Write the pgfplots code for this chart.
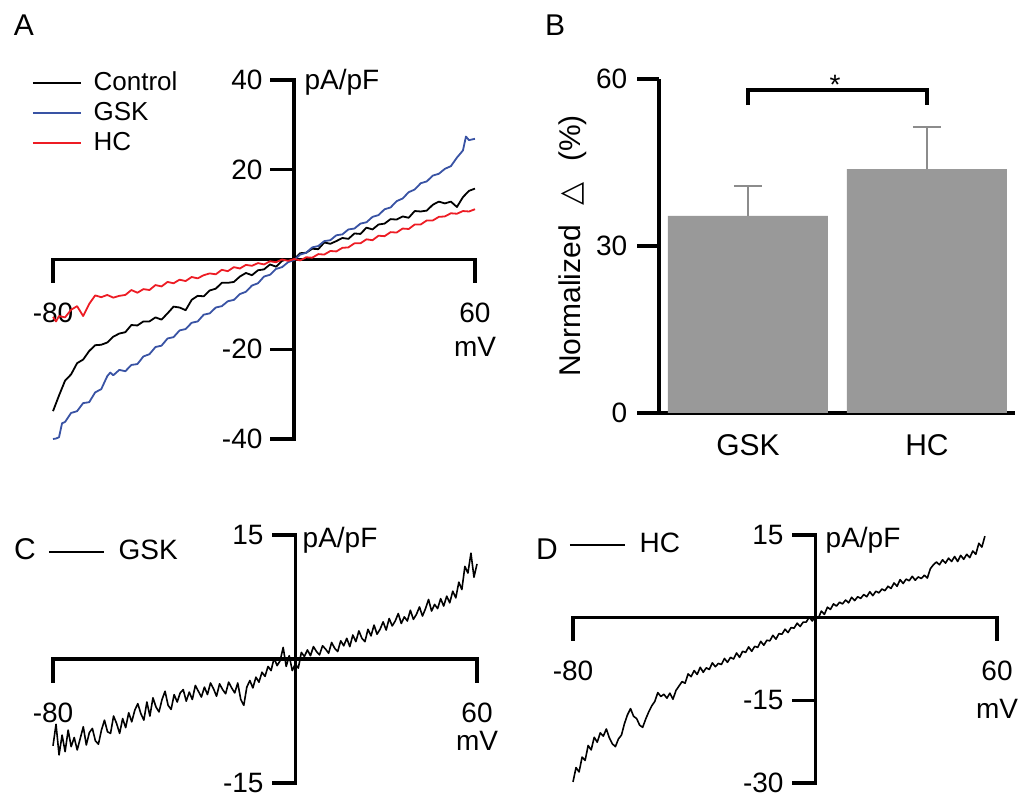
\documentclass[border=0pt]{standalone}
\usepackage{fontspec}
\setmainfont{Liberation Sans}
\newfontfamily\dejavu{DejaVu Sans}
\usepackage{pgfplots}
\pgfplotsset{compat=1.18}

\definecolor{gskblue}{HTML}{3953A4}
\definecolor{hcred}{HTML}{ED1C24}
\definecolor{bargray}{HTML}{999999}
\definecolor{errgray}{HTML}{8C8C8C}

\pgfplotsset{
  ivaxis/.style={
    scale only axis, axis lines=middle, enlargelimits=false, clip=false,
    axis line style={-, line width=1.7pt, line cap=rect},
    major tick style={line width=1.7pt, black, line cap=rect},
    tick align=outside, major tick length=11pt,
    xmin=-80, xmax=60, xtick={-80,60},
    xticklabel style={align=center, yshift=-6pt},
    every axis plot/.append style={line width=0.9pt, line join=round},
    legend cell align=left,
  },
}

\begin{document}
\fontsize{14pt}{16pt}\selectfont
\begin{tikzpicture}
\path[use as bounding box] (0,0) rectangle (510pt,398.5pt);

% ---------- A ----------
\begin{axis}[ivaxis, at={(26.5pt,179pt)}, anchor=south west,
    width=211pt, height=179.5pt, ymin=-40, ymax=40,
    ytick={-40,-20,20,40}, yticklabels={-40,-20,20,40},
    xticklabels={-80,{60\\[1pt]mV}},
    legend image code/.code={\draw[#1, line width=0.8pt] (0pt,0pt) -- (24pt,0pt);},
    legend style={draw=none, fill=none, inner sep=0pt, outer sep=0pt,
      at={(rel axis cs:0,1)}, anchor=north west, xshift=-10.5pt, yshift=4.5pt,
      row sep=3pt, column sep=6pt, font=\fontsize{13pt}{15pt}\selectfont,
      nodes={inner sep=0pt, text height=9.5pt, text depth=2.5pt}}]
% Control
\addplot[black] coordinates {
(-80,-33.8) (-78,-30.3) (-76,-27.0) (-74,-25.6) (-72,-23.1) (-70,-22.3)
(-68,-20.4) (-66,-19.1) (-64,-19.0) (-62,-18.5) (-60,-17.2) (-58,-16.5)
(-56,-16.2) (-54,-14.6) (-52,-14.7) (-50,-13.8) (-48,-13.8) (-46,-12.9)
(-44,-13.4) (-42,-12.0) (-40,-10.5) (-38,-10.7) (-36,-11.3) (-34,-9.0)
(-32,-8.1) (-30,-8.2) (-28,-6.9) (-26,-6.5) (-24,-5.2) (-22,-5.2)
(-20,-5.0) (-18,-3.8) (-16,-3.0) (-14,-3.5) (-12,-2.4) (-10,-2.2)
(-8,-1.1) (-6,-1.6) (-4,-0.3) (-2,0.1) (0,0.1) (2,1.4) (4,1.5) (6,2.4)
(8,2.3) (10,3.8) (12,3.5) (14,4.1) (16,4.8) (18,4.6) (20,5.8) (22,5.7)
(24,7.1) (26,6.7) (28,7.8) (30,8.0) (32,9.0) (34,8.9) (36,9.6) (38,9.3)
(40,10.8) (42,10.7) (44,10.9) (46,12.2) (48,12.9) (50,12.5) (52,12.9)
(54,11.7) (56,13.9) (58,15.3) (60,15.8)};
% GSK
\addplot[gskblue] coordinates {
(-80,-40.0) (-79,-39.9) (-78,-39.6) (-77,-36.5) (-76,-36.2) (-74,-34.2) (-72,-33.8)
(-70,-32.0) (-68,-31.8) (-66,-29.6) (-64,-28.9) (-62,-26.0) (-61,-25.2) (-60,-25.8)
(-58,-24.6) (-56,-24.9) (-54,-23.5) (-52,-23.3) (-50,-21.6) (-48,-21.1)
(-46,-19.5) (-44,-19.2) (-42,-17.6) (-40,-17.3) (-38,-15.8) (-36,-15.5)
(-34,-14.1) (-32,-13.8) (-30,-12.3) (-28,-12.0) (-26,-10.7) (-24,-10.4)
(-22,-9.3) (-20,-9.0) (-18,-7.7) (-16,-7.2) (-14,-5.8) (-12,-5.3)
(-10,-3.8) (-8,-3.4) (-6,-2.1) (-4,-1.7) (-2,-0.6) (0,-0.1) (2,1.1)
(4,1.5) (6,2.7) (8,3.0) (10,4.1) (12,4.3) (14,5.4) (16,5.6) (18,6.7)
(20,6.9) (22,8.0) (24,8.3) (26,9.5) (28,9.9) (30,11.2) (32,11.6)
(34,13.0) (36,13.6) (38,15.0) (40,15.6) (42,17.0) (44,17.4) (46,18.7)
(48,19.1) (50,20.2) (52,20.8) (54,22.7) (56,24.3) (57,27.4) (58,26.6) (60,26.9)};
% HC
\addplot[hcred] coordinates {
(-80,-12.8) (-79,-13.8) (-78,-12.6) (-76,-12.9) (-74,-11.2) (-72,-10.4)
(-70,-12.6) (-68,-9.9) (-66,-8.0) (-64,-8.4) (-62,-7.9) (-60,-8.5)
(-58,-8.1) (-56,-7.9) (-54,-6.8) (-52,-7.4) (-50,-6.6) (-48,-6.8)
(-46,-5.7) (-44,-6.0) (-42,-5.0) (-40,-5.3) (-38,-4.5) (-36,-4.8)
(-34,-3.9) (-32,-4.2) (-30,-3.5) (-28,-3.1) (-26,-3.3) (-24,-2.3)
(-22,-2.6) (-20,-1.7) (-18,-2.0) (-16,-1.2) (-14,-1.4) (-12,-0.8)
(-10,-1.1) (-8,-0.4) (-6,-0.6) (-4,0.0) (-2,-0.3) (0,0.1) (2,-0.2)
(4,0.5) (6,0.4) (8,1.2) (10,1.1) (12,1.9) (14,1.8) (16,2.6) (18,2.7)
(20,3.6) (22,3.6) (24,4.5) (26,4.3) (28,5.3) (30,5.2) (32,6.1) (34,6.0)
(36,6.9) (38,6.8) (40,7.8) (42,7.8) (44,8.7) (46,8.7) (48,9.5) (50,9.6)
(52,10.3) (54,10.2) (56,10.8) (58,10.7) (60,11.2)};
\legend{Control,GSK,HC}
\node[anchor=base west, inner sep=0pt, font=\fontsize{14pt}{16pt}\selectfont]
  at ([xshift=5pt,yshift=-4.5pt]axis cs:0,40) {pA/pF};
\end{axis}

% ---------- B ----------
\begin{axis}[at={(329.5pt,192pt)}, anchor=south west, scale only axis,
    width=178pt, height=167pt, xmin=-0.497, xmax=1.492, ymin=0, ymax=60,
    enlargelimits=false, clip=false,
    axis x line=bottom, axis y line=left,
    axis line style={-, line width=1.8pt},
    tick align=outside, major tick length=11pt,
    major tick style={line width=1.8pt, black},
    ytick={0,30,60}, yticklabels={0,30,60},
    xtick={0,1}, xticklabels={GSK,HC}, x tick style={draw=none},
    xticklabel style={yshift=5pt, font=\fontsize{15pt}{17pt}\selectfont},
    ylabel={Normalized\hspace{10pt}{\dejavu △}\hspace{10pt}(\%)},
    ylabel style={at={(axis description cs:-0.2416,0.5)}, anchor=center,
      font=\fontsize{15pt}{17pt}\selectfont}]
\addplot[ybar, bar width=80pt, fill=bargray, draw=none,
    error bars/.cd, y dir=plus, y explicit,
    error bar style={errgray, line width=0.75pt},
    error mark options={errgray, line width=0.75pt, mark size=7pt, rotate=90}]
  coordinates {(0,35.4) +- (0,5.4) (1,43.8) +- (0,7.6)};
\draw[line width=1.65pt] (axis cs:0,55.3) -- (axis cs:0,58) -- (axis cs:1,58) -- (axis cs:1,55.3);
\node[anchor=base] at (axis cs:0.486,57.3) {*};
\end{axis}

% ---------- C ----------
\begin{axis}[ivaxis, at={(26.5pt,7pt)}, anchor=south west,
    width=212pt, height=124pt, ymin=-15, ymax=15,
    ytick={-15,15}, yticklabels={-15,15},
    xticklabels={-80,{60\\[-2pt]mV}},
    every axis plot/.append style={line width=0.8pt},
    legend image code/.code={\draw[#1] (0pt,0pt) -- (27.5pt,0pt);},
    legend style={draw=none, fill=none, inner sep=0pt, outer sep=0pt,
      at={(rel axis cs:0,1)}, anchor=north west, xshift=-2.5pt, yshift=-2pt,
      column sep=7pt,
      nodes={inner sep=0pt, text height=10pt, text depth=3pt}}]
\addplot[black] coordinates {
(-80,-10.5) (-79,-7.9) (-78,-11.6) (-77,-9.2) (-76,-11.2) (-75,-8.6)
(-74,-10.6) (-73,-9.5) (-72,-11.0) (-71,-9.6) (-70,-8.2) (-69,-10.4)
(-68,-8.9) (-67,-8.4) (-66,-9.9) (-65,-10.3) (-64,-8.6) (-63,-7.4)
(-62,-8.8) (-61,-9.0) (-60,-6.9) (-59,-7.8) (-58,-9.0) (-57,-7.2)
(-56,-8.3) (-55,-6.5) (-54,-7.6) (-53,-6.2) (-52,-5.4) (-51,-6.6)
(-50,-7.4) (-49,-5.2) (-48,-6.9) (-47,-4.7) (-46,-5.8) (-45,-6.4)
(-44,-4.9) (-43,-3.9) (-42,-5.6) (-41,-6.1) (-40,-4.3) (-39,-5.2)
(-38,-4.1) (-37,-3.7) (-36,-5.1) (-35,-4.0) (-34,-4.9) (-33,-3.2)
(-32,-3.9) (-31,-4.6) (-30,-3.4) (-29,-4.3) (-28,-2.9) (-27,-3.6)
(-26,-4.5) (-25,-3.0) (-24,-3.7) (-23,-4.2) (-22,-2.8) (-21,-3.5)
(-20,-4.1) (-19,-2.9) (-18,-4.9) (-17,-5.6) (-16,-3.4) (-15,-2.6)
(-14,-3.5) (-13,-2.2) (-12,-2.8) (-11,-1.6) (-10,-2.1) (-9,-0.9)
(-8,-1.4) (-7,0.1) (-6,-0.8) (-5,-0.2) (-4,1.4) (-3,-0.9) (-2,0.4)
(-1,-1.4) (0,-0.6) (1,-1.1) (2,0.8) (3,0.3) (4,1.1) (5,0.4) (6,1.5)
(7,0.9) (8,0.5) (9,1.6) (10,1.2) (11,0.7) (12,2.0) (13,1.3) (14,0.9)
(15,2.2) (16,1.6) (17,2.5) (18,1.5) (19,2.9) (20,2.1) (21,3.4) (22,2.5)
(23,2.1) (24,3.6) (25,2.8) (26,4.1) (27,3.0) (28,3.6) (29,4.5) (30,3.5)
(31,4.9) (32,4.0) (33,4.6) (34,5.5) (35,4.3) (36,5.1) (37,4.6) (38,5.9)
(39,4.8) (40,5.4) (41,6.3) (42,5.2) (43,6.1) (44,7.2) (45,5.8) (46,6.6)
(47,6.1) (48,7.3) (49,6.4) (50,7.6) (51,6.8) (52,8.2) (53,7.4) (54,9.3)
(55,8.4) (56,11.2) (57,10.4) (58,12.8) (59,9.9) (60,11.5)};
\legend{GSK}
\node[anchor=base west, inner sep=0pt, font=\fontsize{14pt}{16pt}\selectfont]
  at ([xshift=3.5pt,yshift=-6pt]axis cs:0,15) {pA/pF};
\end{axis}

% ---------- D ----------
\begin{axis}[ivaxis, at={(286.5pt,7pt)}, anchor=south west,
    width=212pt, height=124pt, ymin=-30, ymax=15,
    ytick={-30,-15,15}, yticklabels={-30,-15,15},
    xticklabels={-80,{60\\[3pt]mV}},
    every axis plot/.append style={line width=0.8pt},
    legend image code/.code={\draw[#1] (0pt,0pt) -- (27.5pt,0pt);},
    legend style={draw=none, fill=none, inner sep=0pt, outer sep=0pt,
      at={(rel axis cs:0,1)}, anchor=north west, xshift=-2pt, yshift=1.5pt,
      column sep=7pt,
      nodes={inner sep=0pt, text height=10pt, text depth=3pt}}]
\addplot[black] coordinates {
(-80,-29.8) (-79,-27.2) (-78,-28.0) (-77,-25.3) (-76,-25.9) (-75,-23.2)
(-74,-24.0) (-73,-21.7) (-72,-22.6) (-71,-20.9) (-70,-21.5) (-69,-20.2)
(-68,-21.8) (-67,-22.9) (-66,-23.4) (-65,-22.0) (-64,-21.3) (-63,-19.2)
(-62,-17.6) (-61,-16.5) (-60,-17.9) (-59,-18.3) (-58,-19.5) (-57,-19.9)
(-56,-18.4) (-55,-17.1) (-54,-16.0) (-53,-15.2) (-52,-13.6) (-51,-14.3)
(-50,-13.9) (-49,-14.6) (-48,-13.7) (-47,-14.8) (-46,-13.2) (-45,-12.4)
(-44,-11.6) (-43,-11.9) (-42,-10.2) (-41,-10.7) (-40,-9.6) (-39,-10.3)
(-38,-9.0) (-37,-9.9) (-36,-9.1) (-35,-9.4) (-34,-8.2) (-33,-8.9)
(-32,-8.3) (-31,-8.5) (-30,-7.4) (-29,-8.1) (-28,-7.2) (-27,-7.5)
(-26,-6.4) (-25,-7.2) (-24,-6.1) (-23,-6.3) (-22,-5.3) (-21,-6.1)
(-20,-5.2) (-19,-5.4) (-18,-4.3) (-17,-5.0) (-16,-4.1) (-15,-4.2)
(-14,-3.2) (-13,-3.9) (-12,-2.9) (-11,-3.0) (-10,-2.1) (-9,-2.7)
(-8,-1.8) (-7,-1.9) (-6,-1.0) (-5,-1.6) (-4,-0.8) (-3,-0.8) (-2,0.1)
(-1,-0.6) (0,0.3) (1,-0.1) (2,1.2) (3,0.6) (4,1.9) (5,1.5) (6,2.5)
(7,2.1) (8,2.8) (9,2.5) (10,3.2) (11,2.7) (12,3.7) (13,3.1) (14,3.8)
(15,3.5) (16,4.2) (17,3.8) (18,4.7) (19,4.0) (20,4.8) (21,4.5) (22,5.2)
(23,4.9) (24,5.7) (25,5.3) (26,6.3) (27,5.7) (28,6.9) (29,6.2) (30,7.0)
(31,6.7) (32,7.5) (33,6.8) (34,7.4) (35,7.1) (36,7.7) (37,7.2) (38,8.9)
(39,9.6) (40,10.1) (41,9.6) (42,10.5) (43,9.9) (44,10.8) (45,10.2)
(46,11.1) (47,10.2) (48,11.3) (49,10.6) (50,11.5) (51,10.9) (52,12.1)
(53,11.5) (54,13.5) (55,12.8) (56,14.8)};
\legend{HC}
\node[anchor=base west, inner sep=0pt, font=\fontsize{14pt}{16pt}\selectfont]
  at ([xshift=5pt,yshift=-6pt]axis cs:0,15) {pA/pF};
\end{axis}

% panel letters
\node[font=\fontsize{15pt}{17pt}\selectfont] at (12pt,386pt) {A};
\node[font=\fontsize{15pt}{17pt}\selectfont] at (277.5pt,386pt) {B};
\node[font=\fontsize{15pt}{17pt}\selectfont] at (12.5pt,124pt) {C};
\node[font=\fontsize{15pt}{17pt}\selectfont] at (273.5pt,124pt) {D};
\end{tikzpicture}
\end{document}
